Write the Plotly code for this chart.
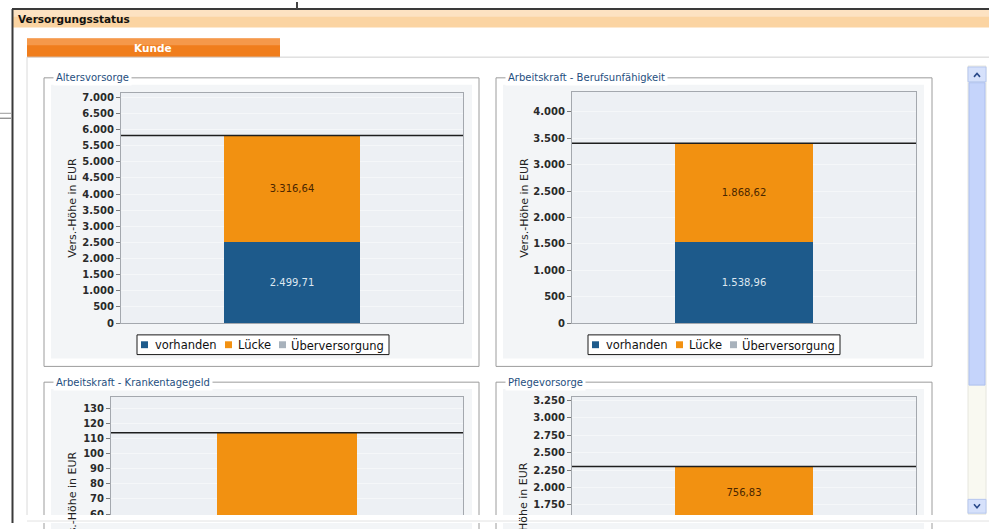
import plotly.graph_objects as go

# ---------------- data ----------------
chart_titles = ["Altersvorsorge", "Arbeitskraft - Berufsunfähigkeit",
                "Arbeitskraft - Krankentagegeld", "Pflegevorsorge"]
series_names = ["vorhanden", "Lücke", "Überversorgung"]
vorhanden = [2499.71, 1538.96, 0.0, 1543.17]
luecke = [3316.64, 1868.62, 113.75, 756.83]
ueberversorgung = [0.0, 0.0, 0.0, 0.0]
y_axis_title = "Vers.-Höhe in EUR"
window_title = "Versorgungsstatus"
tab_label = "Kunde"

# ---------------- style ----------------
W, H = 989, 529
FONT = "DejaVu Sans"
series_colors = ["#1d5a8b", "#f29111", "#a8b2bc"]
label_colors = ["#dde7f0", "#4a2600", "#333333"]

# plot areas in pixels (left, right, top, bottom); charts 3 and 4 are scrolled, cut at the viewport
plot_px = [(121, 463, 92, 326), (572, 916, 91, 326), (111, 463, 401, 521), (572, 916, 401, 521)]
y_ranges = [[0, 7143], [0, 4386], [59.35, 137.3], [1604.5, 3296.5]]
y_dticks = [500, 500, 10, 250]
frames_px = [(44, 479, 77, 370), (496, 932, 77, 370), (44, 479, 386, 540), (496, 932, 386, 540)]
panels_px = [(51, 472, 84, 362), (503, 924, 84, 362), (51, 472, 393, 540), (503, 924, 393, 540)]
ytitle_px = [(73, 209), (525, 209), (72, 507), (523, 518)]
legend_left = [137, 588]


def PX(v):
    return v / W


def PY(v):
    return 1 - v / H


def rect(x0, y0, x1, y1, fill=None, line=None, lw=1, layer="below"):
    return dict(type="rect", xref="paper", yref="paper",
                x0=PX(x0), x1=PX(x1), y0=PY(y1), y1=PY(y0),
                fillcolor=fill or "rgba(0,0,0,0)",
                line=dict(color=line or "rgba(0,0,0,0)", width=lw if line else 0),
                layer=layer)


def seg(x0, y0, x1, y1, color, lw=1, layer="below"):
    return dict(type="line", xref="paper", yref="paper",
                x0=PX(x0), x1=PX(x1), y0=PY(y0), y1=PY(y1),
                line=dict(color=color, width=lw), layer=layer)


def path(points, color, lw=1.5, layer="above"):
    d = "M " + " L ".join(f"{PX(x):.5f},{PY(y):.5f}" for x, y in points)
    return dict(type="path", xref="paper", yref="paper", path=d,
                line=dict(color=color, width=lw), layer=layer)


def de_fmt(v):
    s = f"{v:,.2f}"
    return s.replace(",", "X").replace(".", ",").replace("X", ".")


fig = go.Figure()
series_values = [vorhanden, luecke, ueberversorgung]
shapes = []
annotations = []

# ---------- window chrome ----------
shapes.append(rect(13, 8, 989, 26, fill="#fbd4a2"))
shapes.append(rect(13, 8, 989, 15, fill="#fde2c2"))
shapes.append(rect(27, 37, 280, 56, fill="#f07d1c"))
shapes.append(rect(27, 37, 280, 44, fill="#f5984a"))
shapes.append(seg(27, 56, 989, 56, "#d0d0d0"))
shapes.append(seg(27, 56, 27, 521, "#dadada"))

annotations.append(dict(text=f"<b>{window_title}</b>", x=PX(16), y=PY(17.5), xref="paper", yref="paper",
                        xanchor="left", yanchor="middle", showarrow=False,
                        font=dict(family=FONT, size=10.5, color="#111111")))
annotations.append(dict(text=f"<b>{tab_label}</b>", x=PX(153), y=PY(46.5), xref="paper", yref="paper",
                        xanchor="center", yanchor="middle", showarrow=False,
                        font=dict(family=FONT, size=10.5, color="#ffffff")))

# ---------- chart panels ----------
for i in range(4):
    fx0, fx1, fy0, fy1 = frames_px[i]
    px0, px1, py0, py1 = panels_px[i]
    shapes.append(rect(px0, py0, px1, py1, fill="#f3f5f7"))
    shapes.append(rect(fx0, fy0, fx1, fy1, line="#9c9c9c", lw=1))
    annotations.append(dict(text=chart_titles[i], x=PX(fx0 + 9), y=PY(fy0), xref="paper", yref="paper",
                            xanchor="left", yanchor="middle", showarrow=False,
                            bgcolor="#ffffff", borderpad=2,
                            font=dict(family=FONT, size=10, color="#1f4f80")))
    tx, ty = ytitle_px[i]
    annotations.append(dict(text=y_axis_title, x=PX(tx), y=PY(ty), xref="paper", yref="paper",
                            xanchor="center", yanchor="middle", textangle=-90, showarrow=False,
                            font=dict(family=FONT, size=11, color="#222222")))

# ---------- subplots ----------
for i in range(4):
    xa = "x" if i == 0 else f"x{i + 1}"
    ya = "y" if i == 0 else f"y{i + 1}"
    xkey = "xaxis" if i == 0 else f"xaxis{i + 1}"
    ykey = "yaxis" if i == 0 else f"yaxis{i + 1}"
    l, r, t, b = plot_px[i]
    lo, hi = y_ranges[i]
    total = 0.0
    for s in range(3):
        v = series_values[s][i]
        centre = total + v / 2
        total += v
        # the value label is only visible when the middle of its segment lies in the visible window
        show = v > 0 and lo < centre < hi
        fig.add_trace(go.Bar(
            x=[0], y=[v], name=series_names[s], width=0.4,
            marker=dict(color=series_colors[s], line=dict(width=0)),
            text=[de_fmt(v) if show else ""], textposition="inside",
            insidetextanchor="middle",
            textfont=dict(family=FONT, size=10, color=label_colors[s]),
            xaxis=xa, yaxis=ya, showlegend=False, hoverinfo="skip"))
    fig.add_trace(go.Scatter(
        x=[-0.5, 0.5], y=[total, total], mode="lines",
        line=dict(color="#1e1e1e", width=1.5),
        xaxis=xa, yaxis=ya, showlegend=False, hoverinfo="skip"))
    fig.update_layout({
        xkey: dict(domain=[PX(l), PX(r)], range=[-0.5, 0.5], anchor=ya,
                   showticklabels=False, ticks="", showgrid=False, zeroline=False,
                   showline=True, mirror=True, linecolor="#a4a8ae", linewidth=1),
        ykey: dict(domain=[PY(b), PY(t)], range=y_ranges[i], anchor=xa,
                   dtick=y_dticks[i], tick0=0, tickformat=",d",
                   ticks="outside", ticklen=4, tickcolor="#7a7a7a",
                   tickfont=dict(family=FONT, size=10, color="#2a2a2a", weight="bold"),
                   showline=True, mirror=True, linecolor="#a4a8ae", linewidth=1,
                   showgrid=True, gridcolor="#f5f7f9", gridwidth=1, zeroline=False),
    })
    shapes.append(dict(type="rect", xref=f"{xa} domain", yref=f"{ya} domain",
                       x0=0, x1=1, y0=0, y1=1, fillcolor="#edf0f4",
                       line=dict(width=0), layer="below"))

# ---------- legends (charts 1 and 2, the others are scrolled out of view) ----------
sq_off = [4, 88, 142]
tx_off = [15.5, 99, 152]
for k, bx in enumerate(legend_left):
    shapes.append(rect(bx, 338, bx + 252, 358, fill="#ffffff", line="#1a1a1a", lw=1))
    for s in range(3):
        shapes.append(rect(bx + sq_off[s], 344.5, bx + sq_off[s] + 7, 351.5, fill=series_colors[s]))
        annotations.append(dict(text=series_names[s], x=PX(bx + tx_off[s]), y=PY(348), xref="paper",
                                yref="paper", xanchor="left", yanchor="middle", showarrow=False,
                                font=dict(family=FONT, size=11.5, color="#111111")))

# ---------- scrollbar ----------
shapes.append(rect(968, 65, 986, 520, fill="#f9f9f1", line="#e6e6de"))
shapes.append(rect(968, 66, 986, 81, fill="#d6e1fb", line="#b6c7ef"))
shapes.append(rect(969, 82, 985, 389, fill="#c5d4fb", line="#adbfee"))
shapes.append(rect(968, 505, 986, 519, fill="#d6e1fb", line="#b6c7ef"))
shapes.append(path([(974, 76), (977, 72.5), (980, 76)], "#2a4a8a", 1.6))
shapes.append(path([(974, 510), (977, 513.5), (980, 510)], "#2a4a8a", 1.6))

# ---------- cut-off bottom and outer window borders ----------
shapes.append(rect(14, 521, 989, 529, fill="#ffffff", layer="above"))
shapes.append(seg(27, 527, 989, 527, "#e2e2e2", layer="above"))
shapes.append(seg(12, 7, 989, 7, "#3a3a3a", 2, layer="above"))
shapes.append(seg(12.5, 7, 12.5, 529, "#3a3a3a", 2, layer="above"))
shapes.append(seg(297, 0, 297, 7, "#444444", 2, layer="above"))
shapes.append(seg(0, 113, 11, 113, "#9a9a9a", 1, layer="above"))
shapes.append(seg(0, 118, 11, 118, "#6a6a6a", 1, layer="above"))

fig.update_layout(
    width=W, height=H, margin=dict(l=0, r=0, t=0, b=0),
    paper_bgcolor="#ffffff", plot_bgcolor="rgba(0,0,0,0)",
    barmode="stack", showlegend=False, separators=",.",
    shapes=shapes, annotations=annotations,
    font=dict(family=FONT),
)

fig.write_html("out.html", config={"displayModeBar": False},
               post_script="document.body.style.margin='0';document.body.style.overflow='hidden';")
